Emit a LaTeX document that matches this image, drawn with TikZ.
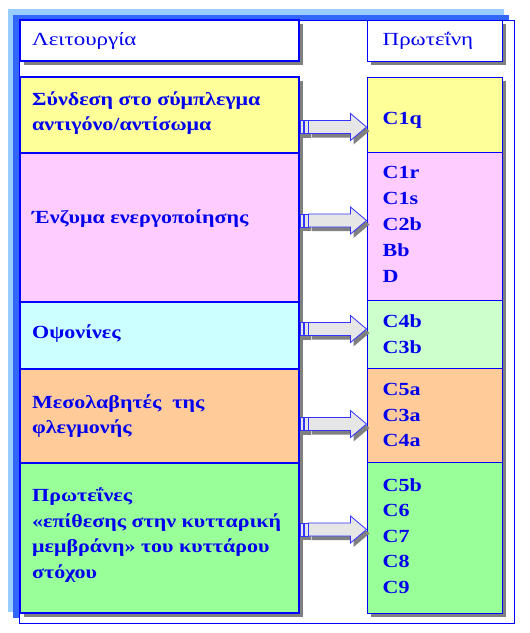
\documentclass[tikz,border=0pt]{standalone}
\usepackage{fontspec}
\setmainfont[FakeStretch=1.19]{Liberation Serif}
\newfontfamily\headfont[FakeStretch=1.24]{Liberation Serif}
\usetikzlibrary{calc,shadows}

\definecolor{framelight}{HTML}{99CCFF}
\definecolor{framedark}{HTML}{3366FF}
\definecolor{lineblue}{HTML}{0000FF}
\definecolor{textblue}{HTML}{0000EE}
\definecolor{arrowline}{HTML}{3333FF}
\definecolor{shadowgray}{HTML}{808080}
\definecolor{arrowgray}{HTML}{E6E6E6}
\definecolor{rowyellow}{HTML}{FFFF99}
\definecolor{rowpink}{HTML}{FFCCFF}
\definecolor{rowcyan}{HTML}{CCFFFF}
\definecolor{roworange}{HTML}{FFCC99}
\definecolor{rowgreen}{HTML}{99FF99}
\definecolor{rowmint}{HTML}{CCFFCC}

% block arrow from coordinate #1 to tip #2
\newcommand{\arrowshape}[2]{($(#1)+(8.5,-6.5)$) -- ($(#2)+(-16,-6.5)$) -- ($(#2)+(-16,-13.5)$) -- (#2) -- ($(#2)+(-16,13.5)$) -- ($(#2)+(-16,6.5)$) -- ($(#1)+(8.5,6.5)$) -- cycle}

\begin{document}
\begin{tikzpicture}[
			x=1pt, y=-1pt,
			every node/.style={text=textblue},
			boxshadow/.style={drop shadow={shadow xshift=4pt, shadow yshift=-4pt, fill=shadowgray, opacity=1}},
			leftbox/.style={draw=lineblue, line width=2pt, minimum width=279, boxshadow},
			rightbox/.style={draw=lineblue, line width=1pt, minimum width=135, boxshadow},
			lefttext/.style={anchor=west, inner xsep=13, align=left, font=\fontsize{18.5}{25.5}\selectfont\bfseries},
			righttext/.style={anchor=west, inner xsep=16, align=left, font=\fontsize{18.5}{25.5}\selectfont\bfseries},
			headtext/.style={font=\headfont\fontsize{18.5}{25.5}\selectfont},
			arrowbody/.style={fill=arrowgray, draw=arrowline, line width=0.8pt},
			arrowshadow/.style={fill=shadowgray}
		]
		\useasboundingbox (0,0) rectangle (530,633);
		% frame
		\fill[framelight] (8,9) rectangle (504,612);
		\fill[framedark] (13,15) rectangle (509,618);
		\filldraw[fill=white, draw=lineblue, line width=1pt] (19.5,20.5) rectangle (514.5,623.5);

		% headers
		\node[leftbox, fill=white, minimum height=41] (hfunc) at (159.5,40.5) {};
		\node[rightbox, fill=white, minimum height=41] (hprot) at (434.5,40.5) {};
		\node[lefttext, headtext] (hfunct) at (hfunc.west) {Λειτουργία};
		\node[righttext, headtext] (hprott) at (hprot.west) {Πρωτεΐνη};

		% left column
		\node[leftbox, fill=rowyellow, minimum height=76] (l1) at (159.5,115) {};
		\node[leftbox, fill=rowpink, minimum height=149] (l2) at (159.5,227.5) {};
		\node[leftbox, fill=rowcyan, minimum height=67] (l3) at (159.5,335.5) {};
		\node[leftbox, fill=roworange, minimum height=94] (l4) at (159.5,416) {};
		\node[leftbox, fill=rowgreen, minimum height=150] (l5) at (159.5,538) {};
		\node[lefttext] (l1t) at ($(l1.west)+(0,-2)$) {Σύνδεση στο σύμπλεγμα\\αντιγόνο/αντίσωμα};
		\node[lefttext] (l2t) at ($(l2.west)+(0,-9)$) {Ένζυμα ενεργοποίησης};
		\node[lefttext] (l3t) at ($(l3.west)+(0,-2)$) {Οψονίνες};
		\node[lefttext] (l4t) at (l4.west) {Μεσολαβητές \ της\\φλεγμονής};
		\node[lefttext] (l5t) at ($(l5.west)+(0,-3)$) {Πρωτεΐνες\\«επίθεσης στην κυτταρική\\μεμβράνη» του κυττάρου\\στόχου};

		% right column
		\node[rightbox, fill=rowyellow, minimum height=75] (r1) at (434.5,114.5) {};
		\node[rightbox, fill=rowpink, minimum height=148] (r2) at (434.5,226) {};
		\node[rightbox, fill=rowmint, minimum height=68] (r3) at (434.5,334) {};
		\node[rightbox, fill=roworange, minimum height=94] (r4) at (434.5,415) {};
		\node[rightbox, fill=rowgreen, minimum height=151] (r5) at (434.5,537.5) {};
		\node[righttext] (r1t) at ($(r1.west)+(0,5.5)$) {C1q};
		\node[righttext, font=\fontsize{18.5}{26}\selectfont\bfseries] (r2t) at ($(r2.west)+(0,-2)$) {C1r\\C1s\\C2b\\Bb\\D};
		\node[righttext] (r3t) at (r3.west) {C4b\\C3b};
		\node[righttext] (r4t) at (r4.west) {C5a\\C3a\\C4a};
		\node[righttext] (r5t) at ($(r5.west)+(0,-1.5)$) {C5b\\C6\\C7\\C8\\C9};

		% arrows
		\foreach \a/\y in {1/127, 2/220.5, 3/329, 4/424, 5/529.5} {
			\coordinate (s\a) at (l\a.east |- 0,\y);
			\coordinate (t\a) at (r\a.west |- 0,\y);
			\coordinate (ss\a) at ($(s\a)+(3,4)$);
			\coordinate (st\a) at ($(t\a)+(3,4)$);
			\fill[arrowshadow] ($(ss\a)+(0,-6.5)$) rectangle ($(ss\a)+(8,6.5)$);
			\fill[arrowshadow] \arrowshape{ss\a}{st\a};
			\filldraw[arrowbody] ($(s\a)+(0,-6.5)$) rectangle ($(s\a)+(3.5,6.5)$);
			\filldraw[arrowbody] ($(s\a)+(4.5,-6.5)$) rectangle ($(s\a)+(8,6.5)$);
			\filldraw[arrowbody] \arrowshape{s\a}{t\a};
		}
	\end{tikzpicture}
\end{document}
